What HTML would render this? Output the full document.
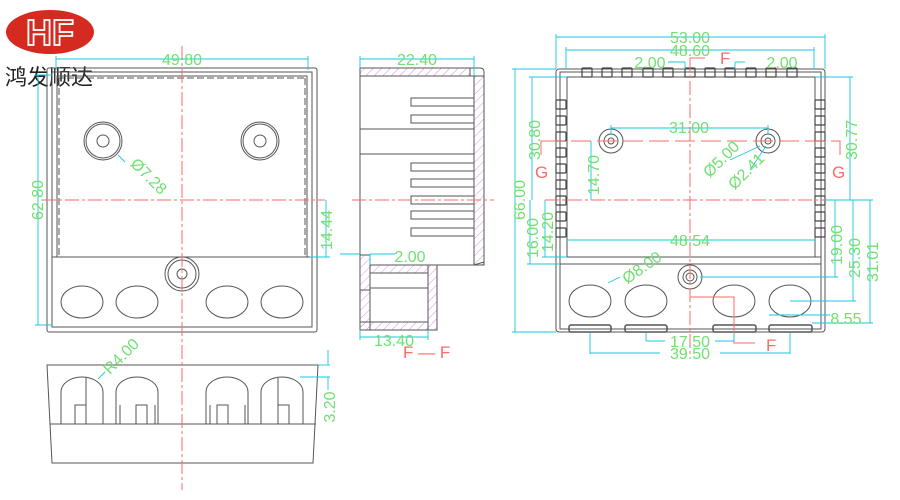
<!DOCTYPE html>
<html><head><meta charset="utf-8"><style>
html,body{margin:0;padding:0;background:#fff;}
svg{display:block}
text{font-family:"Liberation Sans",sans-serif;}
</style></head><body>
<svg width="900" height="500" viewBox="0 0 900 500" xmlns="http://www.w3.org/2000/svg">
<defs>
<pattern id="h" width="6" height="6" patternUnits="userSpaceOnUse" patternTransform="rotate(45)">
<line x1="0" y1="0" x2="0" y2="6" stroke="#d070e0" stroke-width="0.8"/>
</pattern>
</defs>
<!-- logo -->
<ellipse cx="50" cy="32" rx="44" ry="22" fill="#d52a20"/>
<text x="50" y="45" font-size="36" font-weight="bold" fill="none" stroke="#fff" stroke-width="1.8" text-anchor="middle">HF</text>
<text x="5" y="85" font-size="22" fill="#222" font-family="Liberation Sans,'Noto Sans CJK SC',sans-serif">鸿发顺达</text>

<g fill="none" stroke="#555" stroke-width="1">
<!-- LEFT FRONT VIEW -->
<rect x="47" y="68" width="270" height="264" rx="2"/>
<rect x="52" y="72" width="260" height="255"/>
<rect x="57" y="76" width="250" height="181"/>
<line x1="57" y1="78" x2="307" y2="78" stroke-dasharray="7,3"/>
<line x1="59" y1="78" x2="59" y2="257" stroke-dasharray="7,3"/>
<line x1="305" y1="78" x2="305" y2="257" stroke-dasharray="7,3"/>
<line x1="52" y1="257" x2="312" y2="257"/>
<circle cx="103" cy="141" r="19"/><circle cx="103" cy="141" r="17"/><circle cx="103" cy="141" r="6"/>
<circle cx="260" cy="141" r="19"/><circle cx="260" cy="141" r="17"/><circle cx="260" cy="141" r="6"/>
<circle cx="182" cy="274" r="17"/><circle cx="182" cy="274" r="14"/><circle cx="182" cy="274" r="5"/>
<ellipse cx="82" cy="302" rx="21" ry="16"/><ellipse cx="137" cy="302" rx="21" ry="16"/>
<ellipse cx="227" cy="302" rx="21" ry="16"/><ellipse cx="282" cy="302" rx="21" ry="16"/>

<!-- BOTTOM VIEW -->
<path d="M47 365 L318 365 L313 463 L52 463 Z"/>
<line x1="50" y1="424" x2="316" y2="424"/>
<path d="M61 424 L61 392 A21 15 0 0 1 103 392 L103 424"/>
<path d="M116 424 L116 392 A21 15 0 0 1 158 392 L158 424"/>
<path d="M206 424 L206 392 A21 15 0 0 1 248 392 L248 424"/>
<path d="M261 424 L261 392 A21 15 0 0 1 303 392 L303 424"/>
<rect x="75" y="405" width="11" height="19"/><rect x="136" y="405" width="11" height="19"/>
<rect x="217" y="405" width="11" height="19"/><rect x="278" y="405" width="11" height="19"/>
<line x1="86" y1="378" x2="86" y2="424"/><line x1="278" y1="378" x2="278" y2="424"/>
<line x1="120" y1="405" x2="120" y2="424"/><line x1="155" y1="405" x2="155" y2="424"/>
<line x1="210" y1="405" x2="210" y2="424"/><line x1="245" y1="405" x2="245" y2="424"/>

<!-- SIDE VIEW -->
<rect x="360" y="68" width="110" height="8" fill="url(#h)"/>
<rect x="474" y="76" width="10" height="189" fill="url(#h)"/>
<path d="M360 68 L480 68 Q484 68 484 72 L484 262 L474 265 L437 265 L437 330 L360 330 Z"/>
<line x1="360" y1="76" x2="474" y2="76"/>
<line x1="474" y1="76" x2="474" y2="265"/>
<line x1="360" y1="129" x2="474" y2="129"/>
<line x1="360" y1="154" x2="474" y2="154"/>
<rect x="411" y="98" width="63" height="8"/><rect x="411" y="115" width="63" height="8"/>
<rect x="411" y="163" width="63" height="8"/><rect x="411" y="179" width="63" height="8"/>
<rect x="411" y="196" width="63" height="8"/><rect x="411" y="211" width="63" height="8"/>
<rect x="411" y="228" width="63" height="8"/>
<rect x="360" y="255" width="10" height="75" fill="url(#h)"/>
<rect x="428" y="265" width="9" height="65" fill="url(#h)"/>
<rect x="370" y="265" width="58" height="8" fill="url(#h)"/>
<rect x="360" y="322" width="68" height="8" fill="url(#h)"/>
<line x1="370" y1="273" x2="370" y2="288"/><line x1="370" y1="288" x2="428" y2="288"/>
<line x1="360" y1="290" x2="370" y2="290"/>

<!-- RIGHT VIEW -->
<rect x="556" y="69" width="269" height="263" rx="3"/>
<rect x="560" y="72" width="261" height="257"/>
<rect x="567" y="77" width="248" height="180"/>
<line x1="560" y1="264" x2="821" y2="264"/>
<line x1="560" y1="257" x2="821" y2="257"/>
<circle cx="611" cy="141" r="12"/><circle cx="611" cy="141" r="7"/><circle cx="611" cy="141" r="3"/>
<circle cx="768" cy="141" r="12"/><circle cx="768" cy="141" r="7"/><circle cx="768" cy="141" r="3"/>
<circle cx="690" cy="277" r="12"/><circle cx="690" cy="277" r="7"/><circle cx="690" cy="277" r="4"/>
<ellipse cx="590" cy="301" rx="21" ry="16"/><ellipse cx="646" cy="301" rx="21" ry="16"/>
<ellipse cx="734" cy="301" rx="21" ry="16"/><ellipse cx="790" cy="301" rx="21" ry="16"/>
<rect x="569" y="325" width="42" height="7" rx="2" stroke-width="1.5"/>
<rect x="625" y="325" width="42" height="7" rx="2" stroke-width="1.5"/>
<rect x="713" y="325" width="43" height="7" rx="2" stroke-width="1.5"/>
<rect x="769" y="325" width="43" height="7" rx="2" stroke-width="1.5"/>
</g>
<!-- tab squares -->
<g fill="none" stroke="#444" stroke-width="1.2">
<rect x="582" y="68" width="10" height="9" rx="1"/><rect x="602" y="68" width="10" height="9" rx="1"/>
<rect x="622" y="68" width="10" height="9" rx="1"/><rect x="643" y="68" width="10" height="9" rx="1"/>
<rect x="663" y="68" width="10" height="9" rx="1"/><rect x="685" y="68" width="10" height="9" rx="1"/>
<rect x="705" y="68" width="10" height="9" rx="1"/><rect x="725" y="68" width="10" height="9" rx="1"/>
<rect x="746" y="68" width="10" height="9" rx="1"/><rect x="766" y="68" width="10" height="9" rx="1"/>
<rect x="787" y="68" width="10" height="9" rx="1"/>
<rect x="556" y="100" width="10" height="9" rx="1"/><rect x="556" y="116" width="10" height="9" rx="1"/>
<rect x="556" y="132" width="10" height="9" rx="1"/><rect x="556" y="148" width="10" height="9" rx="1"/>
<rect x="556" y="164" width="10" height="9" rx="1"/><rect x="556" y="180" width="10" height="9" rx="1"/>
<rect x="556" y="196" width="10" height="9" rx="1"/><rect x="556" y="212" width="10" height="9" rx="1"/>
<rect x="556" y="228" width="10" height="9" rx="1"/>
<rect x="815" y="100" width="10" height="9" rx="1"/><rect x="815" y="116" width="10" height="9" rx="1"/>
<rect x="815" y="132" width="10" height="9" rx="1"/><rect x="815" y="148" width="10" height="9" rx="1"/>
<rect x="815" y="164" width="10" height="9" rx="1"/><rect x="815" y="180" width="10" height="9" rx="1"/>
<rect x="815" y="196" width="10" height="9" rx="1"/><rect x="815" y="212" width="10" height="9" rx="1"/>
<rect x="815" y="228" width="10" height="9" rx="1"/>
</g>

<!-- red centre lines -->
<g stroke="#ff6a6a" stroke-width="1" fill="none" stroke-dasharray="14,3,3,3">
<line x1="182" y1="46" x2="182" y2="490"/>
<line x1="42" y1="200" x2="325" y2="200"/>
<line x1="352" y1="200" x2="494" y2="200"/>
<line x1="690" y1="58" x2="690" y2="356"/>
<line x1="545" y1="200" x2="840" y2="200"/>
<line x1="545" y1="141" x2="840" y2="141" stroke-dasharray="20,6"/>
</g>
<g stroke="#ff6a6a" fill="none" stroke-width="1">
<polyline points="545,141 541,141 541,155"/>
<polyline points="836,141 840,141 840,155"/>
<polyline points="690,58 705,58"/>
<polyline points="690,297 734,297 734,343 755,343"/>
</g>
<g fill="#ff6a6a" font-size="17">
<text x="535" y="178">G</text><text x="832" y="178">G</text>
<text x="720" y="64">F</text><text x="766" y="351">F</text>
<text x="403" y="358">F — F</text>
</g>

<!-- cyan dimension lines -->
<g stroke="#16c8e0" stroke-width="0.9" fill="none">
<line x1="56" y1="59" x2="308" y2="59"/><line x1="56" y1="56" x2="56" y2="70"/><line x1="308" y1="56" x2="308" y2="70"/>
<line x1="38" y1="75" x2="38" y2="325"/><line x1="35" y1="75" x2="52" y2="75"/><line x1="35" y1="325" x2="52" y2="325"/>
<line x1="326" y1="200" x2="326" y2="257"/><line x1="310" y1="257" x2="330" y2="257"/>
<line x1="118" y1="155" x2="125" y2="162"/>
<line x1="360" y1="59" x2="474" y2="59"/><line x1="360" y1="56" x2="360" y2="68"/><line x1="474" y1="56" x2="474" y2="76"/>
<line x1="340" y1="254" x2="360" y2="254"/><line x1="370" y1="254" x2="395" y2="254"/><line x1="370" y1="254" x2="370" y2="265"/>
<line x1="360" y1="337" x2="428" y2="337"/><line x1="360" y1="330" x2="360" y2="340"/><line x1="428" y1="330" x2="428" y2="340"/>
<line x1="318" y1="365" x2="330" y2="365"/><line x1="300" y1="377" x2="330" y2="377"/><line x1="328" y1="350" x2="328" y2="365"/><line x1="328" y1="377" x2="328" y2="390"/>
<line x1="98" y1="379" x2="105" y2="372"/>
<line x1="556" y1="37" x2="825" y2="37"/><line x1="556" y1="34" x2="556" y2="69"/><line x1="825" y1="34" x2="825" y2="69"/>
<line x1="566" y1="50" x2="814" y2="50"/><line x1="566" y1="47" x2="566" y2="69"/><line x1="814" y1="47" x2="814" y2="69"/>
<line x1="668" y1="62" x2="685" y2="62"/><line x1="685" y1="62" x2="685" y2="69"/><line x1="735" y1="62" x2="745" y2="62"/><line x1="735" y1="62" x2="735" y2="69"/>
<line x1="515" y1="69" x2="515" y2="332"/><line x1="512" y1="69" x2="556" y2="69"/><line x1="512" y1="332" x2="556" y2="332"/>
<line x1="532" y1="77" x2="532" y2="200"/><line x1="529" y1="77" x2="567" y2="77"/>
<line x1="530" y1="200" x2="530" y2="264"/><line x1="527" y1="264" x2="560" y2="264"/>
<line x1="545" y1="200" x2="545" y2="257"/><line x1="542" y1="257" x2="567" y2="257"/>
<line x1="591" y1="141" x2="591" y2="200"/>
<line x1="611" y1="128" x2="768" y2="128"/><line x1="611" y1="125" x2="611" y2="135"/><line x1="768" y1="125" x2="768" y2="135"/>
<line x1="850" y1="77" x2="850" y2="200"/><line x1="815" y1="77" x2="853" y2="77"/>
<line x1="835" y1="200" x2="835" y2="277"/><line x1="700" y1="277" x2="838" y2="277"/>
<line x1="853" y1="200" x2="853" y2="301"/><line x1="790" y1="301" x2="856" y2="301"/>
<line x1="870" y1="200" x2="870" y2="323"/><line x1="812" y1="323" x2="873" y2="323"/>
<line x1="825" y1="200" x2="873" y2="200"/>
<line x1="567" y1="240" x2="815" y2="240"/>
<line x1="769" y1="315" x2="811" y2="315"/><line x1="811" y1="315" x2="830" y2="315"/>
<line x1="646" y1="333" x2="646" y2="341"/><line x1="646" y1="341" x2="665" y2="341"/><line x1="715" y1="341" x2="734" y2="341"/><line x1="734" y1="333" x2="734" y2="341"/>
<line x1="590" y1="333" x2="590" y2="354"/><line x1="790" y1="333" x2="790" y2="354"/><line x1="590" y1="353" x2="660" y2="353"/><line x1="720" y1="353" x2="790" y2="353"/>
<line x1="608" y1="283" x2="620" y2="277"/>
<line x1="730" y1="160" x2="760" y2="146"/>
<line x1="750" y1="170" x2="766" y2="146"/>
</g>
<!-- green labels -->
<g fill="#70e070" font-size="16" text-anchor="middle">
<text x="182" y="65">49.80</text>
<text x="417" y="65">22.40</text>
<text x="410" y="262">2.00</text>
<text x="394" y="346">13.40</text>
<text x="145" y="180" transform="rotate(45 145 180)">Ø7.28</text>
<text x="43" y="200" transform="rotate(-90 43 200)">62.80</text>
<text x="332" y="230" transform="rotate(-90 332 230)">14.44</text>
<text x="125" y="360" transform="rotate(-45 125 360)">R4.00</text>
<text x="335" y="407" transform="rotate(-90 335 407)">3.20</text>
<text x="690" y="43">53.00</text>
<text x="690" y="56">48.60</text>
<text x="650" y="68">2.00</text>
<text x="782" y="68">2.00</text>
<text x="689" y="133">31.00</text>
<text x="690" y="246">48.54</text>
<text x="690" y="347">17.50</text>
<text x="690" y="359">39.50</text>
<text x="846" y="324">8.55</text>
<text x="645" y="272" transform="rotate(-35 645 272)">Ø8.00</text>
<text x="725" y="163" transform="rotate(-45 725 163)">Ø5.00</text>
<text x="750" y="175" transform="rotate(-45 750 175)">Ø2.41</text>
<text x="525" y="200" transform="rotate(-90 525 200)">66.00</text>
<text x="540" y="140" transform="rotate(-90 540 140)">30.80</text>
<text x="538" y="238" transform="rotate(-90 538 238)">16.00</text>
<text x="553" y="232" transform="rotate(-90 553 232)">14.20</text>
<text x="599" y="175" transform="rotate(-90 599 175)">14.70</text>
<text x="857" y="140" transform="rotate(-90 857 140)">30.77</text>
<text x="842" y="245" transform="rotate(-90 842 245)">19.00</text>
<text x="860" y="258" transform="rotate(-90 860 258)">25.30</text>
<text x="878" y="262" transform="rotate(-90 878 262)">31.01</text>
</g>
</svg>
</body></html>
